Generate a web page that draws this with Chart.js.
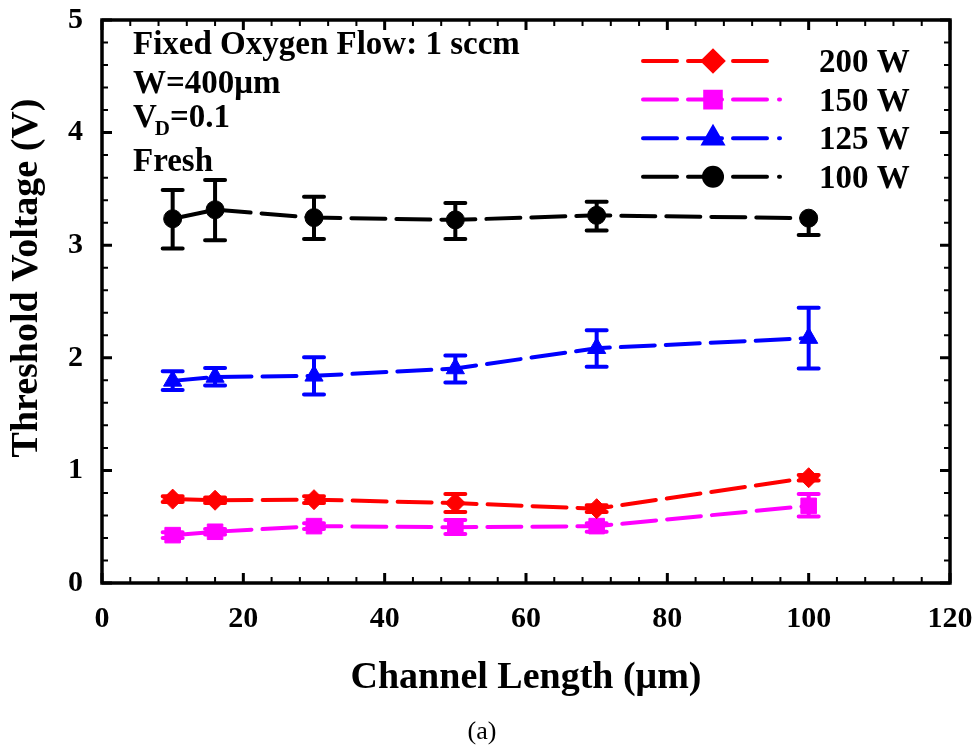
<!DOCTYPE html>
<html lang="en">
<head>
    <meta charset="UTF-8">
    <title>Threshold Voltage vs Channel Length</title>
    <script src="https://cdn.jsdelivr.net/npm/chart.js"></script>
    <style>
        body { margin: 0; background: #fff; }
        #wrap { width: 979px; height: 754px; }
    </style>
</head>
<body>
    <div id="wrap"><canvas id="vtChart" width="979" height="754"></canvas></div>

    <script>
        // channel lengths (um)
        const lengths = [10, 16, 30, 50, 70, 100];

        // threshold voltage per RF power
        const vt200 = [0.745, 0.735, 0.74, 0.71, 0.66, 0.935];
        const vt150 = [0.425, 0.455, 0.505, 0.495, 0.505, 0.685];
        const vt125 = [1.795, 1.83, 1.84, 1.905, 2.085, 2.175];
        const vt100 = [3.235, 3.315, 3.245, 3.225, 3.265, 3.24];

        // error bar ends (top / bottom)
        const hi200 = [0.77, 0.76, 0.77, 0.79, 0.69, 0.96];
        const lo200 = [0.72, 0.71, 0.71, 0.63, 0.63, 0.91];
        const hi150 = [0.45, 0.48, 0.53, 0.56, 0.53, 0.79];
        const lo150 = [0.40, 0.43, 0.48, 0.435, 0.455, 0.59];
        const hi125 = [1.88, 1.91, 2.005, 2.02, 2.245, 2.445];
        const lo125 = [1.715, 1.755, 1.675, 1.78, 1.92, 1.905];
        const hi100 = [3.49, 3.58, 3.43, 3.375, 3.385, 3.24];
        const lo100 = [2.97, 3.045, 3.055, 3.055, 3.13, 3.09];

        const seriesLabels = ['200 W', '150 W', '125 W', '100 W'];
        const xTicks = [0, 20, 40, 60, 80, 100, 120];
        const yTicks = [0, 1, 2, 3, 4, 5];
        const notes = ['Fixed Oxygen Flow: 1 sccm', 'W=400\u03bcm', 'V', 'Fresh'];

        const FONT = "'Liberation Serif', 'Times New Roman', serif";

        function toPoints(ys) {
            return lengths.map((x, i) => ({ x: x, y: ys[i] }));
        }

        const styles = [
            { color: '#ff0000', point: 'rectRot', r: 10, dash: [34, 11] },
            { color: '#ff00ff', point: 'rect', r: 11, dash: [34, 11] },
            { color: '#0000ff', point: 'triangle', r: 10.5, dash: [34, 11] },
            { color: '#000000', point: 'circle', r: 9, dash: [34, 11] }
        ];
        const values = [vt200, vt150, vt125, vt100];
        const highs = [hi200, hi150, hi125, hi100];
        const lows = [lo200, lo150, lo125, lo100];

        const datasets = values.map((v, i) => ({
            label: seriesLabels[i],
            data: toPoints(v),
            showLine: true,
            borderColor: styles[i].color,
            backgroundColor: styles[i].color,
            borderWidth: 4,
            borderDash: styles[i].dash,
            borderCapStyle: 'round',
            pointStyle: styles[i].point,
            pointRadius: styles[i].r,
            pointBorderWidth: 1,
            pointBorderColor: styles[i].color,
            pointBackgroundColor: styles[i].color
        }));

        // error bars, drawn under the markers
        const errorBars = {
            id: 'errorBars',
            beforeDatasetsDraw(chart) {
                const { ctx, scales: { x, y } } = chart;
                ctx.save();
                ctx.lineWidth = 4;
                ctx.lineCap = 'round';
                values.forEach((v, s) => {
                    ctx.strokeStyle = styles[s].color;
                    lengths.forEach((len, i) => {
                        const px = x.getPixelForValue(len);
                        const top = y.getPixelForValue(highs[s][i]);
                        const bot = y.getPixelForValue(lows[s][i]);
                        ctx.beginPath();
                        ctx.moveTo(px, top);
                        ctx.lineTo(px, bot);
                        if (highs[s][i] > v[i] + 0.001) {
                            ctx.moveTo(px - 10, top);
                            ctx.lineTo(px + 10, top);
                        }
                        if (lows[s][i] < v[i] - 0.001) {
                            ctx.moveTo(px - 10, bot);
                            ctx.lineTo(px + 10, bot);
                        }
                        ctx.stroke();
                    });
                });
                ctx.restore();
            }
        };

        // frame with inward ticks on all sides, notes, legend, titles
        const decorations = {
            id: 'decorations',
            afterDraw(chart) {
                const { ctx, chartArea: a, scales: { x, y } } = chart;
                ctx.save();
                ctx.strokeStyle = '#000';

                // minor / major ticks
                for (let v = 0; v <= 120; v += 4) {
                    const px = x.getPixelForValue(v);
                    const major = v % 20 === 0;
                    const len = major ? 10 : 6;
                    ctx.lineWidth = major ? 3 : 2;
                    ctx.beginPath();
                    ctx.moveTo(px, a.bottom); ctx.lineTo(px, a.bottom - len);
                    ctx.moveTo(px, a.top); ctx.lineTo(px, a.top + len);
                    ctx.stroke();
                }
                for (let k = 0; k <= 25; k++) {
                    const py = y.getPixelForValue(k * 0.2);
                    const major = k % 5 === 0;
                    const len = major ? 10 : 6;
                    ctx.lineWidth = major ? 3 : 2;
                    ctx.beginPath();
                    ctx.moveTo(a.left, py); ctx.lineTo(a.left + len, py);
                    ctx.moveTo(a.right, py); ctx.lineTo(a.right - len, py);
                    ctx.stroke();
                }
                ctx.lineWidth = 3.5;
                ctx.strokeRect(a.left, a.top, a.right - a.left, a.bottom - a.top);

                // notes in the upper left
                ctx.fillStyle = '#000';
                ctx.textAlign = 'left';
                ctx.textBaseline = 'alphabetic';
                ctx.font = 'bold 33px ' + FONT;
                ctx.fillText(notes[0], 133, 54);
                ctx.fillText(notes[1], 133, 93);
                ctx.fillText(notes[2], 133, 127);
                const vw = ctx.measureText(notes[2]).width;
                ctx.font = 'bold 21px ' + FONT;
                ctx.fillText('D', 133 + vw - 2, 135);
                const dw = ctx.measureText('D').width;
                ctx.font = 'bold 33px ' + FONT;
                ctx.fillText('=0.1', 133 + vw - 2 + dw, 127);
                ctx.fillText(notes[3], 133, 171);

                // legend
                seriesLabels.forEach((lab, i) => {
                    const ly = 61 + i * 38.6;
                    const st = styles[i];
                    ctx.strokeStyle = st.color;
                    ctx.fillStyle = st.color;
                    ctx.lineWidth = 4;
                    ctx.lineCap = 'round';
                    ctx.setLineDash(i === 0 ? [34, 11, 34, 11, 34, 100] : [34, 11, 34, 11, 34, 12, 1, 100]);
                    ctx.beginPath();
                    ctx.moveTo(643, ly);
                    ctx.lineTo(786, ly);
                    ctx.stroke();
                    ctx.setLineDash([]);
                    Chart.helpers.drawPoint(ctx, { pointStyle: st.point, radius: st.r, borderWidth: 1 }, 713, ly);
                    ctx.fillStyle = '#000';
                    ctx.font = 'bold 33px ' + FONT;
                    ctx.fillText(lab, 819, ly + 11);
                });

                // y axis title
                ctx.save();
                ctx.translate(27, 278);
                ctx.rotate(-Math.PI / 2);
                ctx.textAlign = 'center';
                ctx.textBaseline = 'middle';
                ctx.font = 'bold 38px ' + FONT;
                ctx.fillText('Threshold Voltage (V)', 0, 0);
                ctx.restore();

                // sub figure label
                ctx.textAlign = 'center';
                ctx.textBaseline = 'middle';
                ctx.font = '26px ' + FONT;
                ctx.fillText('(a)', 482, 732);
                ctx.restore();
            }
        };

        const ctx = document.getElementById('vtChart').getContext('2d');
        const vtChart = new Chart(ctx, {
            type: 'scatter',
            data: { datasets: datasets },
            options: {
                responsive: false,
                animation: false,
                layout: { padding: { top: 20, right: 29, bottom: 49, left: 0 } },
                plugins: {
                    legend: { display: false },
                    tooltip: { enabled: false }
                },
                scales: {
                    x: {
                        type: 'linear',
                        min: 0,
                        max: 120,
                        afterBuildTicks: (s) => { s.ticks = xTicks.map(v => ({ value: v })); },
                        afterFit: (s) => { s.height = 122; s.paddingLeft = 0; s.paddingRight = 0; },
                        grid: { display: false, drawTicks: false },
                        border: { display: false },
                        ticks: {
                            padding: 18,
                            color: '#000',
                            font: { family: FONT, size: 30, weight: 'bold' }
                        },
                        title: {
                            display: true,
                            text: 'Channel Length (\u03bcm)',
                            color: '#000',
                            font: { family: FONT, size: 38, weight: 'bold' }
                        }
                    },
                    y: {
                        min: 0,
                        max: 5,
                        afterBuildTicks: (s) => { s.ticks = yTicks.map(v => ({ value: v })); },
                        afterFit: (s) => { s.width = 102; s.paddingTop = 0; s.paddingBottom = 0; },
                        grid: { display: false, drawTicks: false },
                        border: { display: false },
                        ticks: {
                            padding: 19,
                            color: '#000',
                            font: { family: FONT, size: 30, weight: 'bold' }
                        }
                    }
                }
            },
            plugins: [errorBars, decorations]
        });
    </script>
</body>
</html>
